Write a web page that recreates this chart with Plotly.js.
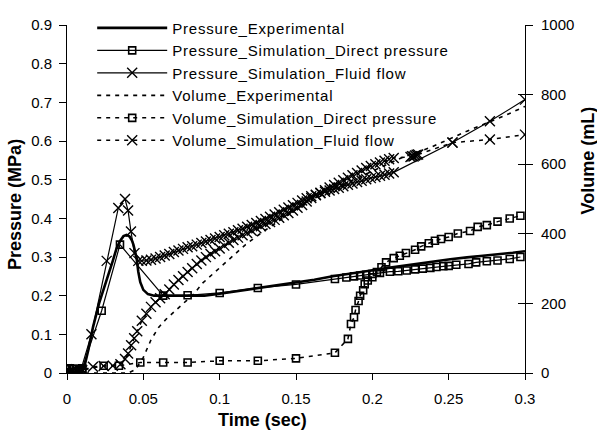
<!DOCTYPE html>
<html>
<head>
<meta charset="utf-8">
<script src="https://cdn.plot.ly/plotly-3.0.1.min.js"></script>
<style>
body{margin:0;padding:0;background:#fff;}
#chart{width:597px;height:430px;}
.legendtext{letter-spacing:0.8px;}
</style>
</head>
<body>
<div id="chart"></div>
<script>
// ---- Data ----
// Pressure_Experimental (MPa)
const tPressExp = [0, 0.004, 0.008, 0.011, 0.014, 0.017, 0.021, 0.026, 0.030, 0.0325, 0.035, 0.037, 0.039, 0.041, 0.0425, 0.0435, 0.0445, 0.0456, 0.0467, 0.048, 0.05, 0.053, 0.057, 0.061, 0.07, 0.08, 0.09, 0.1, 0.112, 0.125, 0.138, 0.15, 0.162, 0.174, 0.185, 0.196, 0.207, 0.218, 0.229, 0.24, 0.251, 0.262, 0.273, 0.284, 0.292, 0.3];
const pressExp = [0.005, 0.003, 0.003, 0.01, 0.06, 0.118, 0.18, 0.238, 0.29, 0.323, 0.343, 0.354, 0.357, 0.353, 0.343, 0.332, 0.315, 0.297, 0.262, 0.235, 0.215, 0.204, 0.2, 0.2, 0.199, 0.199, 0.2, 0.205, 0.212, 0.22, 0.226, 0.233, 0.241, 0.25, 0.256, 0.263, 0.27, 0.276, 0.282, 0.289, 0.294, 0.299, 0.303, 0.308, 0.311, 0.315];

// Pressure_Simulation_Direct pressure (MPa)
const tPressDirect = [0, 0.002, 0.004, 0.006, 0.008, 0.010, 0.0227, 0.0347, 0.063, 0.079, 0.1, 0.125, 0.15, 0.1755, 0.183, 0.188, 0.192, 0.196, 0.2, 0.205, 0.2115, 0.217, 0.2225, 0.228, 0.233, 0.238, 0.242, 0.2465, 0.25, 0.255, 0.263, 0.268, 0.275, 0.282, 0.29, 0.297];
const pressDirect = [0.01, 0.012, 0.01, 0.011, 0.01, 0.012, 0.161, 0.332, 0.2, 0.201, 0.207, 0.22, 0.229, 0.243, 0.247, 0.25, 0.252, 0.254, 0.256, 0.259, 0.262, 0.263, 0.265, 0.268, 0.27, 0.272, 0.274, 0.276, 0.277, 0.28, 0.282, 0.286, 0.289, 0.291, 0.295, 0.30];

// Pressure_Simulation_Fluid flow (MPa)
const tPressFluid = [0, 0.004, 0.0085, 0.016, 0.026, 0.0336, 0.038, 0.040, 0.0419, 0.0442, 0.0467,
  0.049, 0.052, 0.055, 0.058, 0.061, 0.064, 0.067, 0.070, 0.073, 0.076, 0.079, 0.082, 0.085, 0.088, 0.091, 0.094, 0.097, 0.100,
  0.103, 0.106, 0.109, 0.112, 0.115, 0.118, 0.121, 0.124, 0.127, 0.130, 0.133, 0.136, 0.139, 0.142, 0.145, 0.148, 0.151, 0.154,
  0.157, 0.160, 0.163, 0.166, 0.169, 0.172, 0.175, 0.178, 0.181, 0.184, 0.187, 0.190, 0.193, 0.196, 0.199, 0.202, 0.205, 0.208,
  0.211, 0.214, 0.2525, 0.277, 0.3];
const pressFluid = [0.01, 0.005, 0.0, 0.10, 0.29, 0.427, 0.45, 0.42, 0.366, 0.31, 0.29,
  0.290, 0.291, 0.293, 0.296, 0.300, 0.304, 0.308, 0.313, 0.317, 0.321, 0.325, 0.328, 0.332, 0.336, 0.340, 0.344, 0.348, 0.352,
  0.356, 0.360, 0.364, 0.369, 0.373, 0.378, 0.383, 0.388, 0.393, 0.398, 0.404, 0.410, 0.416, 0.422, 0.428, 0.434, 0.440, 0.446,
  0.452, 0.457, 0.461, 0.465, 0.469, 0.472, 0.476, 0.479, 0.483, 0.487, 0.490, 0.494, 0.497, 0.501, 0.504, 0.507, 0.510, 0.513,
  0.516, 0.519, 0.596, 0.651, 0.707];

// Volume_Experimental (mL)
const tVolExp = [0, 0.02, 0.04, 0.045, 0.05, 0.055, 0.06, 0.065, 0.072, 0.083, 0.089, 0.1, 0.106, 0.117, 0.124, 0.13, 0.15, 0.175, 0.2, 0.22, 0.238, 0.262, 0.288, 0.3];
const volExp = [0, 0, 0, 10, 45, 95, 131, 155, 184, 227, 259, 302, 326, 369, 392, 411, 470, 530, 580, 620, 648, 695, 742, 766];

// Volume_Simulation_Direct pressure (mL)
const tVolDirect = [0, 0.002, 0.004, 0.006, 0.008, 0.010, 0.024, 0.034, 0.048, 0.063, 0.079, 0.1, 0.125, 0.15, 0.1755, 0.184, 0.186, 0.188, 0.189, 0.191, 0.192, 0.194, 0.195, 0.197, 0.2, 0.203, 0.206, 0.209, 0.214, 0.218, 0.222, 0.228, 0.232, 0.237, 0.241, 0.245, 0.25, 0.256, 0.264, 0.269, 0.275, 0.282, 0.29, 0.297];
const volDirect = [0, 2, 3, 5, 6, 8, 21, 21, 30, 30, 30, 35, 35, 42, 58, 98, 141, 160, 181, 207, 222, 238, 255, 266, 275, 290, 304, 318, 330, 337, 345, 354, 364, 373, 380, 385, 391, 401, 408, 420, 425, 435, 444, 452];

// Volume_Simulation_Fluid flow (mL)
const tVolFluid = [0, 0.005, 0.010, 0.017, 0.024, 0.030, 0.035, 0.038, 0.040, 0.042, 0.044, 0.046, 0.049, 0.052, 0.055, 0.058,
  0.061, 0.064, 0.067, 0.070, 0.073, 0.076, 0.079, 0.082, 0.085, 0.088, 0.091, 0.094, 0.097, 0.100, 0.103, 0.106, 0.109, 0.112,
  0.115, 0.118, 0.121, 0.124, 0.127, 0.130, 0.133, 0.136, 0.139, 0.142, 0.145, 0.148, 0.151, 0.154, 0.157, 0.160, 0.163, 0.166,
  0.169, 0.172, 0.175, 0.178, 0.181, 0.184, 0.187, 0.190, 0.193, 0.196, 0.199, 0.202, 0.205, 0.208, 0.211, 0.214,
  0.225, 0.226, 0.227, 0.228, 0.229, 0.230, 0.2525, 0.277, 0.3];
const volFluid = [0, 3, 8, 18, 20, 21, 25, 40, 56, 80, 100, 120, 150, 170, 190, 203,
  215, 226, 240, 254, 267, 278, 290, 301, 313, 323, 333, 342, 350, 358, 366, 374, 382, 389,
  396, 402, 409, 416, 422, 428, 434, 440, 446, 453, 460, 467, 475, 483, 493, 503, 511, 518,
  525, 533, 540, 547, 554, 561, 568, 575, 582, 589, 595, 600, 605, 610, 614, 618,
  621, 623, 622, 625, 627, 628, 662, 671, 685];

const seriesNames = ["Pressure_Experimental", "Pressure_Simulation_Direct pressure", "Pressure_Simulation_Fluid flow",
  "Volume_Experimental", "Volume_Simulation_Direct pressure", "Volume_Simulation_Fluid flow"];

const BLACK = "#000000";
const FONT = "Liberation Sans, Arial, sans-serif";
const sq = {symbol: "square-open", size: 7, color: BLACK, line: {width: 1.6, color: BLACK}};
const xm = {symbol: "x-thin-open", size: 10, color: BLACK, line: {width: 1.4, color: BLACK}};
const DASH = "4px,5px";

const traces = [
  {x: tPressExp, y: pressExp, name: seriesNames[0], mode: "lines", line: {color: BLACK, width: 2.6}},
  {x: tPressDirect, y: pressDirect, name: seriesNames[1], mode: "lines+markers", line: {color: BLACK, width: 1.2}, marker: sq},
  {x: tPressFluid, y: pressFluid, name: seriesNames[2], mode: "lines+markers", line: {color: BLACK, width: 1.2}, marker: xm},
  {x: tVolExp, y: volExp, name: seriesNames[3], mode: "lines", yaxis: "y2", line: {color: BLACK, width: 1.6, dash: DASH}},
  {x: tVolDirect, y: volDirect, name: seriesNames[4], mode: "lines+markers", yaxis: "y2", line: {color: BLACK, width: 1.5, dash: DASH}, marker: sq},
  {x: tVolFluid, y: volFluid, name: seriesNames[5], mode: "lines+markers", yaxis: "y2", line: {color: BLACK, width: 1.5, dash: DASH}, marker: xm},
  // empty helper trace so the inner tick set of the right axis is drawn (cross-style ticks)
  {x: [], y: [], yaxis: "y3", mode: "lines", showlegend: false, hoverinfo: "skip"}
];

const tickFont = {family: FONT, size: 15, color: BLACK};
const titleFont = {family: FONT, size: 18, color: BLACK, weight: "bold"};

const layout = {
  width: 597, height: 430,
  margin: {l: 67, r: 72, t: 21, b: 57, pad: 0},
  paper_bgcolor: "#fff", plot_bgcolor: "#fff",
  showlegend: true,
  legend: {x: 0.055, y: 1.0385, xanchor: "left", yanchor: "top", bgcolor: "rgba(0,0,0,0)",
    font: {family: FONT, size: 15, color: BLACK}, itemwidth: 70, traceorder: "normal"},
  xaxis: {range: [0, 0.3], dtick: 0.05, tick0: 0, showgrid: false, zeroline: false, showline: true, linecolor: BLACK, linewidth: 1,
    ticks: "outside", ticklen: 6, tickcolor: BLACK, tickfont: tickFont, ticklabelstandoff: 6, fixedrange: true},
  yaxis: {range: [0, 0.9], dtick: 0.1, tick0: 0, showgrid: false, zeroline: false, showline: true, linecolor: BLACK, linewidth: 1,
    ticks: "outside", ticklen: 7, tickcolor: BLACK, tickfont: tickFont, ticklabelstandoff: 4, fixedrange: true},
  yaxis2: {range: [0, 1000], dtick: 200, tick0: 0, overlaying: "y", side: "right", showgrid: false, zeroline: false, showline: true,
    linecolor: BLACK, linewidth: 1, ticks: "outside", ticklen: 7, tickcolor: BLACK, tickfont: tickFont, ticklabelstandoff: 5, fixedrange: true},
  yaxis3: {range: [0, 1000], dtick: 200, tick0: 0, overlaying: "y", side: "right", showgrid: false, zeroline: false, showline: false,
    ticks: "inside", ticklen: 7, tickcolor: BLACK, showticklabels: false, fixedrange: true},
  annotations: [
    {text: "<b>Pressure (MPa)</b>", xref: "paper", yref: "paper", x: -0.1135, y: 0.483, textangle: -90, showarrow: false,
      font: titleFont, xanchor: "center", yanchor: "middle"},
    {text: "<b>Volume (mL)</b>", xref: "paper", yref: "paper", x: 1.1376, y: 0.611, textangle: -90, showarrow: false,
      font: titleFont, xanchor: "center", yanchor: "middle"},
    {text: "<b>Time (sec)</b>", xref: "paper", yref: "paper", x: (262 - 67) / 458, y: -(421 - 373) / 352, showarrow: false,
      font: titleFont, xanchor: "center", yanchor: "middle"}
  ]
};

Plotly.newPlot("chart", traces, layout, {staticPlot: true, displayModeBar: false});
</script>
</body>
</html>
